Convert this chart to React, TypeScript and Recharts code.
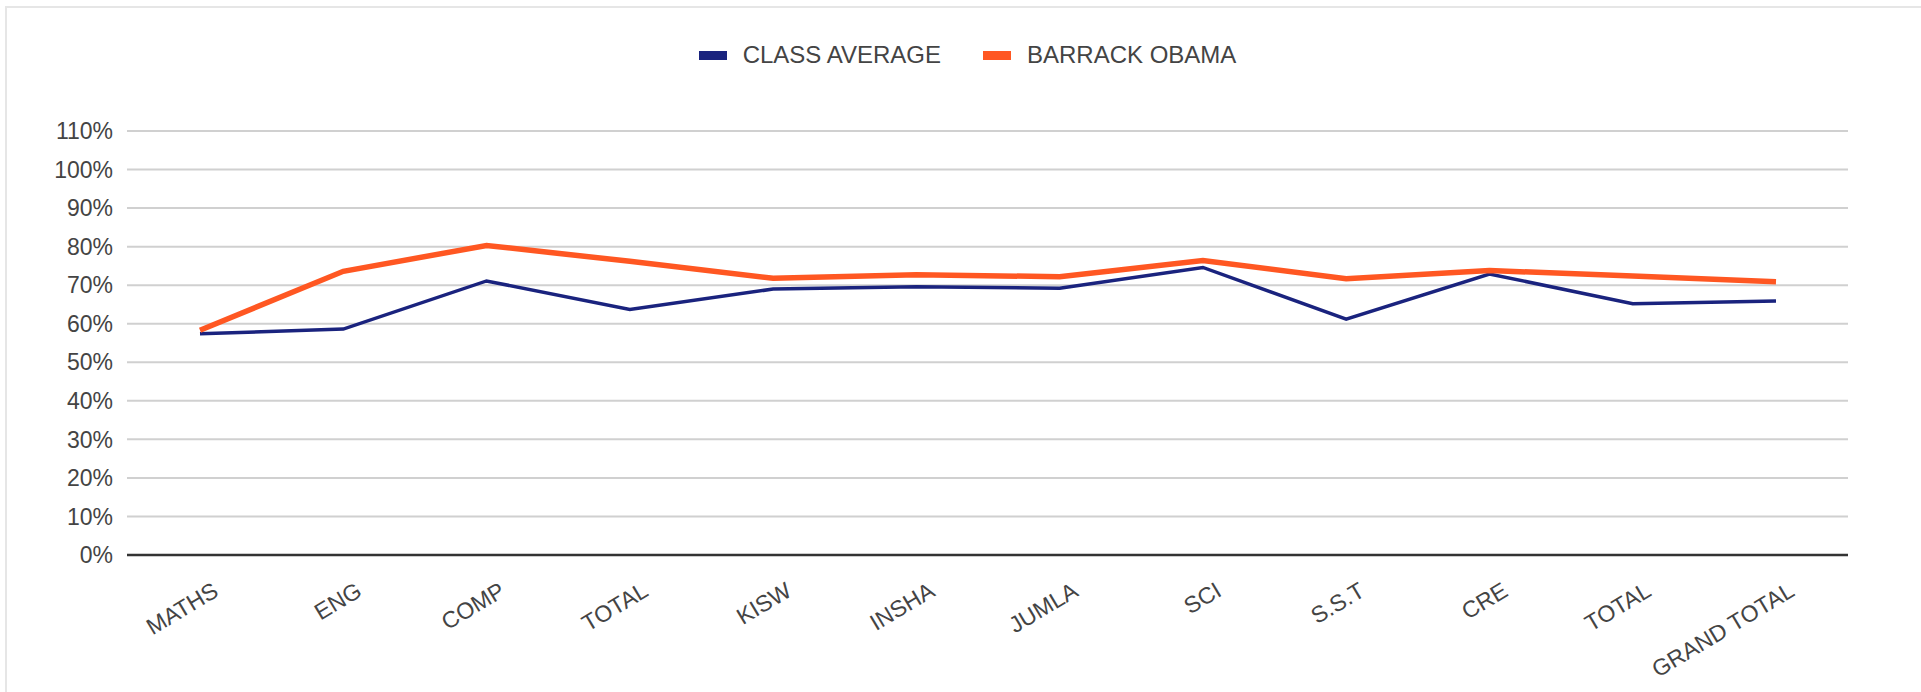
import { LineChart, Line, XAxis, YAxis, CartesianGrid, Legend } from 'recharts';

const subjects = ['MATHS', 'ENG', 'COMP', 'TOTAL', 'KISW', 'INSHA', 'JUMLA', 'SCI', 'S.S.T', 'CRE', 'TOTAL', 'GRAND TOTAL'];
const classAverage = [57.4, 58.6, 71.1, 63.7, 69.0, 69.6, 69.2, 74.6, 61.2, 72.9, 65.2, 65.9];
const barrackObama = [58.3, 73.6, 80.3, 76.2, 71.8, 72.7, 72.2, 76.4, 71.7, 73.8, 72.4, 70.9];
const yTicks = [0, 10, 20, 30, 40, 50, 60, 70, 80, 90, 100, 110];

const NAVY = '#1a237e';
const ORANGE = '#ff5722';
const TEXT = '#444444';
const FONT = '"Liberation Sans", Arial, sans-serif';

const data = subjects.map((s, i) => ({
  subject: s,
  classAvg: classAverage[i],
  obama: barrackObama[i],
}));

function XTick({ x, y, payload }: any) {
  return (
    <text
      transform={`translate(${x + 20}, ${y + 40}) rotate(-31)`}
      textAnchor="end"
      fill={TEXT}
      fontSize={23}
      fontFamily={FONT}
    >
      {payload.value}
    </text>
  );
}

function LegendContent() {
  const items = [
    { label: 'CLASS AVERAGE', color: NAVY },
    { label: 'BARRACK OBAMA', color: ORANGE },
  ];
  return (
    <div style={{ display: 'flex', justifyContent: 'center', gap: 42, fontFamily: FONT, fontSize: 24, color: TEXT, paddingLeft: 14 }}>
      {items.map((it) => (
        <div key={it.label} style={{ display: 'flex', alignItems: 'center', gap: 16 }}>
          <div style={{ width: 28, height: 9, background: it.color }} />
          <span>{it.label}</span>
        </div>
      ))}
    </div>
  );
}

export default function App() {
  return (
    <div style={{ position: 'absolute', left: 0, top: 0, width: 1921, height: 692, background: '#fff' }}>
      {/* frame seen on top and left */}
      <div style={{ position: 'absolute', left: 5, top: 6, right: 0, bottom: 0, borderTop: '2px solid #e6e6e6', borderLeft: '2px solid #e6e6e6' }} />
      <LineChart width={1921} height={692} data={data} margin={{ top: 131, right: 73, bottom: 0, left: 0 }}>
        <CartesianGrid vertical={false} stroke="#d0d0d0" strokeWidth={2} />
        <XAxis
          dataKey="subject"
          height={137}
          padding={{ left: 73, right: 72 }}
          axisLine={{ stroke: '#333333', strokeWidth: 2.5 }}
          tickLine={false}
          tickSize={0}
          tickMargin={0}
          interval={0}
          tick={<XTick />}
        />
        <YAxis
          width={127}
          domain={[0, 110]}
          ticks={yTicks}
          axisLine={false}
          tickLine={false}
          tickFormatter={(v: number) => `${v}%`}
          tick={{ fill: TEXT, fontSize: 23, fontFamily: FONT }}
          tickMargin={8}
        />
        <Legend
          layout="horizontal"
          verticalAlign="middle"
          align="center"
          wrapperStyle={{ top: 41, left: 0, width: 1921 }}
          content={<LegendContent />}
        />
        <Line type="linear" dataKey="classAvg" name="CLASS AVERAGE" stroke={NAVY} strokeWidth={3.5} dot={false} isAnimationActive={false} />
        <Line type="linear" dataKey="obama" name="BARRACK OBAMA" stroke={ORANGE} strokeWidth={5.5} dot={false} isAnimationActive={false} />
      </LineChart>
    </div>
  );
}
